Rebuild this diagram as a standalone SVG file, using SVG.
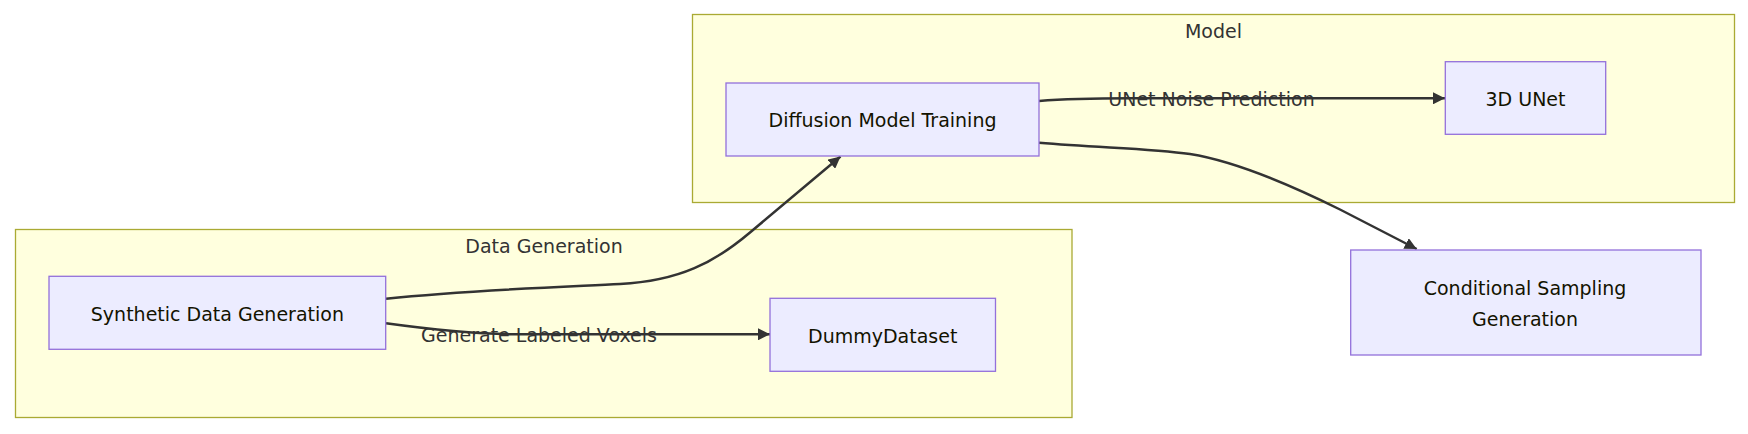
<svg xmlns="http://www.w3.org/2000/svg" width="1748" height="434" viewBox="0 0 1748 434">
<style>
.cluster rect{fill:#ffffde;stroke:#aaaa33;stroke-width:1.3}
.node rect{fill:#ECECFF;stroke:#9370DB;stroke-width:1.3}
text{font-family:"DejaVu Sans",Verdana,sans-serif;font-size:19px;text-anchor:middle}
.node text{fill:#131300}
.ctitle{fill:#333}
.elabel{fill:#333}
.edge{fill:none;stroke:#333333;stroke-width:2.5}
</style>
<defs>
<marker id="arrow" viewBox="0 0 10 10" refX="10" refY="5" markerUnits="userSpaceOnUse" markerWidth="12" markerHeight="12" orient="auto">
<path d="M0,0 L10,5 L0,10 z" fill="#333333"/>
</marker>
</defs>
<rect width="1748" height="434" fill="#ffffff"/>
<g id="cluster-model" class="cluster">
<rect x="692.5" y="14.5" width="1042" height="188"/>
<text class="ctitle" x="1213.5" y="37.7">Model</text>
</g>
<g id="cluster-datagen" class="cluster">
<rect x="15.5" y="229.5" width="1056.5" height="188"/>
<text class="ctitle" x="544" y="252.7">Data Generation</text>
</g>
<g id="edges">
<path class="edge" d="M386,298.7 C470,290 560,287 620,284 C680,281 715,262.1 750,232.5 L840.5,156.5" marker-end="url(#arrow)"/>
<path class="edge" d="M386,323.3 C420,328 470,334.3 520,334.3 L770,334.3" marker-end="url(#arrow)"/>
<path class="edge" d="M1039,101 C1070,98.5 1090,98.3 1130,98.3 L1445,98.3" marker-end="url(#arrow)"/>
<path class="edge" d="M1039,142.7 C1100,148 1150,148 1190,154 C1240,162 1300,189.6 1340,209.5 L1416.7,249" marker-end="url(#arrow)"/>
</g>
<g id="edge-labels">
<text class="elabel" x="539" y="342">Generate Labeled Voxels</text>
<text class="elabel" x="1211.5" y="106">UNet Noise Prediction</text>
</g>
<g id="node-synthetic" class="node">
<rect x="49" y="276.3" width="336.7" height="73"/>
<text x="217.4" y="320.6">Synthetic Data Generation</text>
</g>
<g id="node-dummy" class="node">
<rect x="770" y="298.3" width="225.5" height="73"/>
<text x="882.7" y="342.6">DummyDataset</text>
</g>
<g id="node-diffusion" class="node">
<rect x="726" y="83" width="313" height="73"/>
<text x="882.5" y="127.3">Diffusion Model Training</text>
</g>
<g id="node-unet" class="node">
<rect x="1445.3" y="61.7" width="160.4" height="72.6"/>
<text x="1525.5" y="106">3D UNet</text>
</g>
<g id="node-conditional" class="node">
<rect x="1350.7" y="250" width="350.3" height="105"/>
<text x="1525" y="294.5">Conditional Sampling</text>
<text x="1525" y="326">Generation</text>
</g>
</svg>
